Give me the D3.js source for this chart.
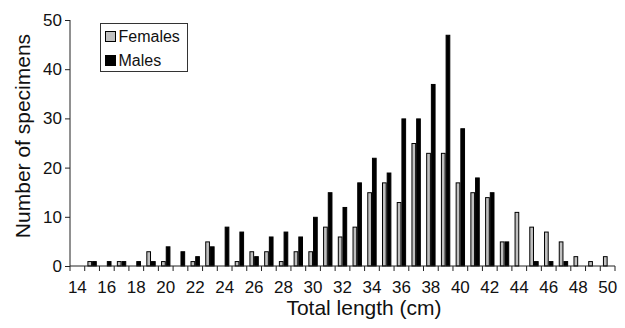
<!DOCTYPE html>
<html>
<head>
<meta charset="utf-8">
<script src="https://cdn.jsdelivr.net/npm/d3@7"></script>
<style>
  body { margin: 0; background: #fff; }
  svg { display: block; font-family: "Liberation Sans", Arial, sans-serif; }
</style>
</head>
<body>
<svg id="chart"></svg>
<script>
"use strict";

// total length classes (cm)
const lengths = d3.range(14, 51);
const females = [0, 1, 0, 1, 0, 3, 1, 0, 1, 5, 0, 1, 3, 3, 1, 3, 3, 8, 6, 8, 15, 17, 13, 25, 23, 23, 17, 15, 14, 5, 11, 8, 7, 5, 2, 1, 2];
const males   = [0, 1, 1, 1, 1, 1, 4, 3, 2, 4, 8, 7, 2, 6, 7, 6, 10, 15, 12, 17, 22, 19, 30, 30, 37, 47, 28, 18, 15, 5, 0, 1, 1, 1, 0, 0, 0];
const yTicks = [0, 10, 20, 30, 40, 50];
const xLabels = d3.range(14, 51, 2);
const seriesNames = ["Females", "Males"];
const seriesColors = ["#c0c0c0", "#000000"];

const width = 625, height = 328;
const margin = { left: 70, right: 10, top: 20, bottom: 62 };

const svg = d3.select("#chart").attr("width", width).attr("height", height);

const x = d3.scaleBand().domain(lengths).range([margin.left, 615]);
const xSub = d3.scaleBand().domain(seriesNames).range([0, x.bandwidth()]).paddingOuter(0.57);
const y = d3.scaleLinear().domain([0, 50]).range([266, margin.top]);

const rows = lengths.map((len, i) => ({ len, values: [females[i], males[i]] }));

// bars
svg.append("g")
    .selectAll("g")
    .data(rows)
    .join("g")
    .attr("transform", d => `translate(${x(d.len)},0)`)
    .selectAll("rect")
    .data(d => d.values.map((v, k) => ({ v, k })))
    .join("rect")
    .filter(d => d.v > 0)
    .attr("x", d => xSub(seriesNames[d.k]) + 0.5)
    .attr("y", d => y(d.v) + 0.5)
    .attr("width", xSub.bandwidth() - 1)
    .attr("height", d => y(0) - y(d.v) - 0.5)
    .attr("fill", d => seriesColors[d.k])
    .attr("stroke", "#000")
    .attr("stroke-width", 1);

// y axis
const yAxis = svg.append("g")
    .attr("transform", `translate(${margin.left},0)`)
    .call(d3.axisLeft(y).tickValues(yTicks).tickSize(5).tickPadding(3));
yAxis.selectAll("text").attr("font-size", 17).attr("fill", "#111");
yAxis.selectAll("line, path").attr("stroke", "#222");
yAxis.select(".domain").attr("d", `M-0,${y(50)}V${y(0)}`);

// x axis: ticks on the class boundaries, labels on every other class
const xAxis = svg.append("g").attr("transform", `translate(0,${y(0)})`);
xAxis.append("line")
    .attr("x1", x.range()[0]).attr("x2", x.range()[1])
    .attr("stroke", "#222");
xAxis.selectAll(".tick")
    .data(lengths.concat([51]))
    .join("line")
    .attr("x1", d => d === 51 ? x.range()[1] : x(d))
    .attr("x2", d => d === 51 ? x.range()[1] : x(d))
    .attr("y1", 0).attr("y2", 5)
    .attr("stroke", "#222");
xAxis.selectAll("text")
    .data(xLabels)
    .join("text")
    .attr("x", d => x(d) + x.bandwidth() / 2)
    .attr("y", 27)
    .attr("text-anchor", "middle")
    .attr("font-size", 17)
    .attr("fill", "#111")
    .text(d => d);

// axis titles
svg.append("text")
    .attr("x", 364).attr("y", 315)
    .attr("text-anchor", "middle")
    .attr("font-size", 21)
    .attr("fill", "#111")
    .text("Total length (cm)");
svg.append("text")
    .attr("transform", "translate(30,136) rotate(-90)")
    .attr("text-anchor", "middle")
    .attr("font-size", 21)
    .attr("fill", "#111")
    .text("Number of specimens");

// legend
const legend = svg.append("g").attr("transform", "translate(100.5,23.5)");
legend.append("rect")
    .attr("width", 87).attr("height", 48)
    .attr("fill", "#fff").attr("stroke", "#333");
legend.selectAll("g")
    .data(seriesNames)
    .join("g")
    .attr("transform", (d, i) => `translate(5,${8 + i * 24})`)
    .call(g => g.append("rect")
        .attr("width", 10).attr("height", 10)
        .attr("fill", (d, i) => seriesColors[i])
        .attr("stroke", "#000"))
    .call(g => g.append("text")
        .attr("x", 13).attr("y", 10)
        .attr("font-size", 16)
        .attr("fill", "#111")
        .text(d => d));
</script>
</body>
</html>
